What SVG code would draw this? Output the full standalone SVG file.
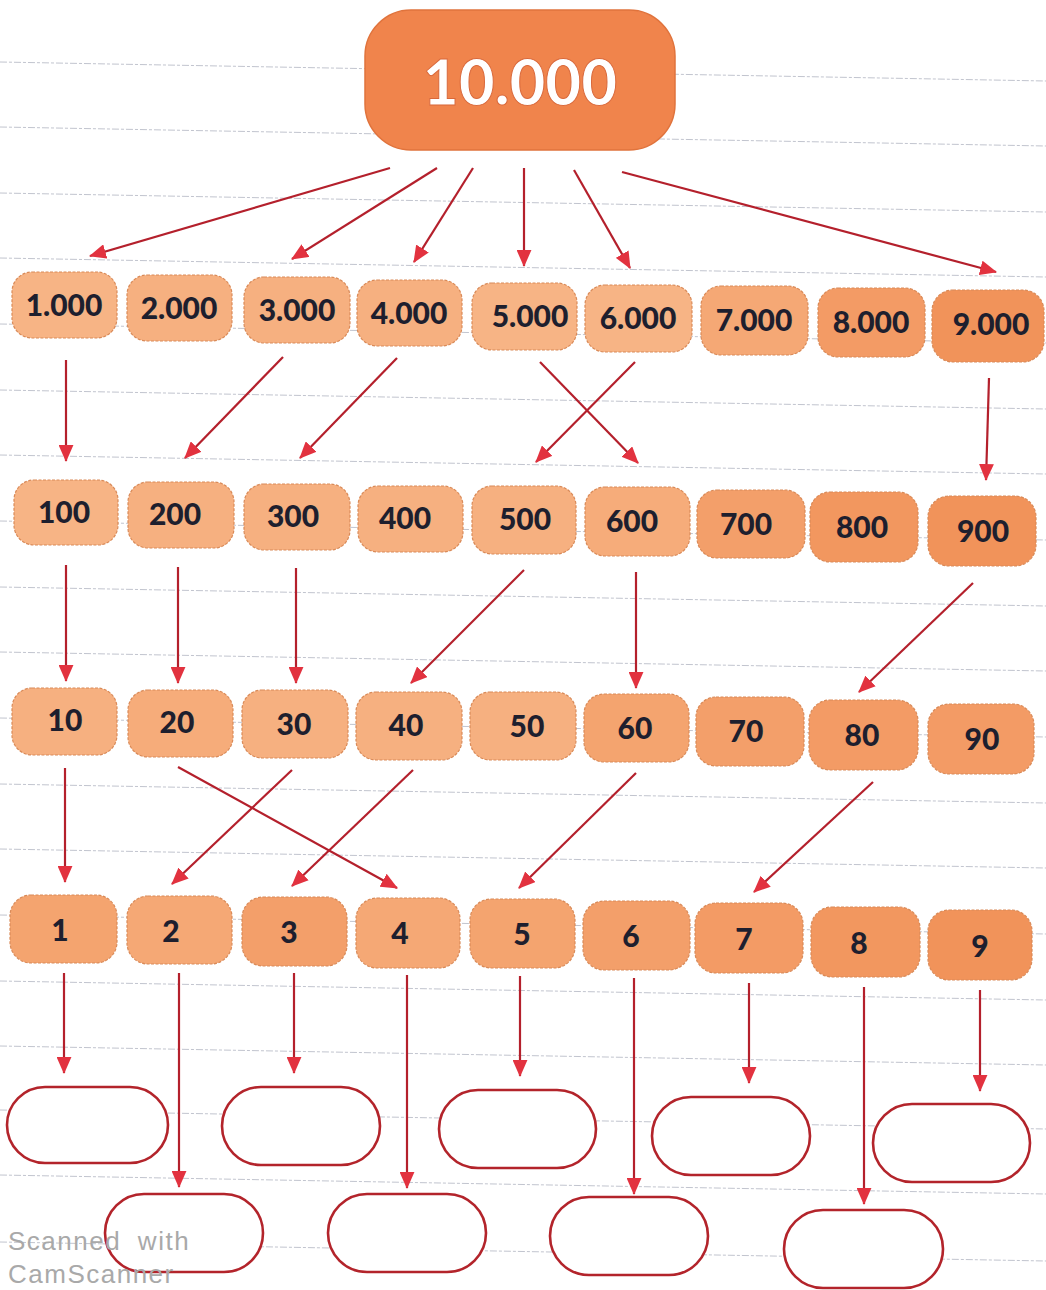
<svg xmlns="http://www.w3.org/2000/svg" width="1046" height="1290" viewBox="0 0 1046 1290">
<style>
.bg{fill:#ffffff}
.rule{stroke:#8e94a6;stroke-width:1;stroke-dasharray:7 2 3 2;opacity:0.55;fill:none}
.n rect{stroke:#d98a58;stroke-width:1.2;stroke-dasharray:3 1.5}
.n text{font-family:Lato,"Liberation Sans",sans-serif;font-weight:900;font-size:30px;fill:#1e1f2e;text-anchor:middle;dominant-baseline:central}
.c0{fill:#F7B485}.c1{fill:#F6B080}.c2{fill:#F6AC7A}.c3{fill:#F5A875}.c4{fill:#F4A46F}.c5{fill:#F39F6A}.c6{fill:#F39B65}.c7{fill:#F2975F}.c8{fill:#F1935A}
.e rect{fill:#ffffff;stroke:#b3242b;stroke-width:2.6}
.a line{stroke:#b4202c;stroke-width:2.2}
.wm{font-family:"Liberation Sans",sans-serif;font-size:26px;fill:#a9a9a9;letter-spacing:1.5px;word-spacing:8px}
</style>
<defs>
<marker id="ah" viewBox="0 0 16 14" refX="15" refY="7" markerWidth="17" markerHeight="15" orient="auto" markerUnits="userSpaceOnUse">
<path d="M0,0 L16,7 L0,14 z" fill="#e2323f"/>
</marker>
</defs>
<rect class="bg" x="0" y="0" width="1046" height="1290"/>
<g id="ruled-lines">
<line class="rule" x1="0" y1="62" x2="1046" y2="81"/>
<line class="rule" x1="0" y1="127" x2="1046" y2="146"/>
<line class="rule" x1="0" y1="193" x2="1046" y2="212"/>
<line class="rule" x1="0" y1="258" x2="1046" y2="277"/>
<line class="rule" x1="0" y1="324" x2="1046" y2="343"/>
<line class="rule" x1="0" y1="390" x2="1046" y2="409"/>
<line class="rule" x1="0" y1="455" x2="1046" y2="474"/>
<line class="rule" x1="0" y1="521" x2="1046" y2="540"/>
<line class="rule" x1="0" y1="587" x2="1046" y2="606"/>
<line class="rule" x1="0" y1="652" x2="1046" y2="671"/>
<line class="rule" x1="0" y1="718" x2="1046" y2="737"/>
<line class="rule" x1="0" y1="784" x2="1046" y2="803"/>
<line class="rule" x1="0" y1="849" x2="1046" y2="868"/>
<line class="rule" x1="0" y1="915" x2="1046" y2="934"/>
<line class="rule" x1="0" y1="981" x2="1046" y2="1000"/>
<line class="rule" x1="0" y1="1046" x2="1046" y2="1065"/>
<line class="rule" x1="0" y1="1110" x2="1046" y2="1129"/>
<line class="rule" x1="0" y1="1175" x2="1046" y2="1194"/>
<line class="rule" x1="0" y1="1242" x2="1046" y2="1261"/>
</g>

<g id="connectors" class="a">
<line x1="390" y1="168" x2="90" y2="256" marker-end="url(#ah)"/>
<line x1="437" y1="168" x2="292" y2="259" marker-end="url(#ah)"/>
<line x1="473" y1="168" x2="414" y2="262" marker-end="url(#ah)"/>
<line x1="524" y1="168" x2="524" y2="266" marker-end="url(#ah)"/>
<line x1="574" y1="170" x2="630" y2="268" marker-end="url(#ah)"/>
<line x1="622" y1="172" x2="996" y2="272" marker-end="url(#ah)"/>

<line x1="66" y1="360" x2="66" y2="461" marker-end="url(#ah)"/>
<line x1="283" y1="357" x2="185" y2="458" marker-end="url(#ah)"/>
<line x1="397" y1="358" x2="300" y2="458" marker-end="url(#ah)"/>
<line x1="540" y1="362" x2="638" y2="463" marker-end="url(#ah)"/>
<line x1="635" y1="362" x2="536" y2="462" marker-end="url(#ah)"/>
<line x1="989" y1="378" x2="986" y2="480" marker-end="url(#ah)"/>

<line x1="66" y1="565" x2="66" y2="681" marker-end="url(#ah)"/>
<line x1="178" y1="567" x2="178" y2="683" marker-end="url(#ah)"/>
<line x1="296" y1="568" x2="296" y2="683" marker-end="url(#ah)"/>
<line x1="524" y1="570" x2="411" y2="683" marker-end="url(#ah)"/>
<line x1="636" y1="572" x2="636" y2="688" marker-end="url(#ah)"/>
<line x1="973" y1="583" x2="859" y2="692" marker-end="url(#ah)"/>

<line x1="65" y1="768" x2="65" y2="882" marker-end="url(#ah)"/>
<line x1="178" y1="767" x2="397" y2="888" marker-end="url(#ah)"/>
<line x1="292" y1="770" x2="172" y2="884" marker-end="url(#ah)"/>
<line x1="413" y1="770" x2="292" y2="886" marker-end="url(#ah)"/>
<line x1="636" y1="773" x2="519" y2="888" marker-end="url(#ah)"/>
<line x1="873" y1="782" x2="754" y2="892" marker-end="url(#ah)"/>

<line x1="64" y1="973" x2="64" y2="1073" marker-end="url(#ah)"/>
<line x1="179" y1="973" x2="179" y2="1187" marker-end="url(#ah)"/>
<line x1="294" y1="973" x2="294" y2="1073" marker-end="url(#ah)"/>
<line x1="407" y1="975" x2="407" y2="1188" marker-end="url(#ah)"/>
<line x1="520" y1="976" x2="520" y2="1076" marker-end="url(#ah)"/>
<line x1="634" y1="978" x2="634" y2="1194" marker-end="url(#ah)"/>
<line x1="749" y1="983" x2="749" y2="1083" marker-end="url(#ah)"/>
<line x1="864" y1="987" x2="864" y2="1204" marker-end="url(#ah)"/>
<line x1="980" y1="990" x2="980" y2="1091" marker-end="url(#ah)"/>
</g>

<g id="n10000">
<rect x="365" y="10" width="310" height="140" rx="46" fill="#F0844C" stroke="#e0733c" stroke-width="1.5"/>
<text x="520" y="81" font-family="Lato,'Liberation Sans',sans-serif" font-weight="900" font-size="62" fill="#ffffff" stroke="#d9683a" stroke-width="1" text-anchor="middle" dominant-baseline="central">10.000</text>
</g>

<g id="n1000" class="n"><rect class="c0" x="12" y="272" width="105" height="66" rx="20"/><text x="64" y="304">1.000</text></g>
<g id="n2000" class="n"><rect class="c1" x="127" y="275" width="105" height="66" rx="20"/><text x="179" y="307">2.000</text></g>
<g id="n3000" class="n"><rect class="c1" x="244" y="277" width="106" height="66" rx="20"/><text x="297" y="309">3.000</text></g>
<g id="n4000" class="n"><rect class="c1" x="357" y="280" width="105" height="66" rx="20"/><text x="409" y="312">4.000</text></g>
<g id="n5000" class="n"><rect class="c0" x="472" y="283" width="105" height="67" rx="20"/><text x="530" y="315">5.000</text></g>
<g id="n6000" class="n"><rect class="c0" x="585" y="285" width="107" height="67" rx="20"/><text x="638" y="317">6.000</text></g>
<g id="n7000" class="n"><rect class="c3" x="701" y="286" width="107" height="69" rx="20"/><text x="754" y="319">7.000</text></g>
<g id="n8000" class="n"><rect class="c6" x="818" y="288" width="107" height="69" rx="20"/><text x="871" y="321">8.000</text></g>
<g id="n9000" class="n"><rect class="c8" x="932" y="290" width="112" height="72" rx="21"/><text x="991" y="323">9.000</text></g>

<g id="n100" class="n"><rect class="c0" x="14" y="480" width="104" height="65" rx="20"/><text x="64" y="511">100</text></g>
<g id="n200" class="n"><rect class="c1" x="128" y="482" width="106" height="66" rx="20"/><text x="175" y="513">200</text></g>
<g id="n300" class="n"><rect class="c1" x="244" y="484" width="106" height="66" rx="20"/><text x="293" y="515">300</text></g>
<g id="n400" class="n"><rect class="c1" x="358" y="486" width="105" height="66" rx="20"/><text x="405" y="517">400</text></g>
<g id="n500" class="n"><rect class="c1" x="472" y="486" width="104" height="68" rx="20"/><text x="525" y="518">500</text></g>
<g id="n600" class="n"><rect class="c2" x="585" y="487" width="105" height="69" rx="20"/><text x="632" y="520">600</text></g>
<g id="n700" class="n"><rect class="c5" x="697" y="490" width="108" height="68" rx="20"/><text x="746" y="523">700</text></g>
<g id="n800" class="n"><rect class="c7" x="810" y="492" width="108" height="70" rx="20"/><text x="862" y="526">800</text></g>
<g id="n900" class="n"><rect class="c8" x="928" y="496" width="108" height="70" rx="21"/><text x="983" y="530">900</text></g>

<g id="n10" class="n"><rect class="c1" x="12" y="688" width="105" height="67" rx="20"/><text x="65" y="719">10</text></g>
<g id="n20" class="n"><rect class="c2" x="128" y="690" width="105" height="67" rx="20"/><text x="177" y="721">20</text></g>
<g id="n30" class="n"><rect class="c1" x="242" y="690" width="106" height="68" rx="20"/><text x="294" y="723">30</text></g>
<g id="n40" class="n"><rect class="c1" x="356" y="692" width="106" height="68" rx="20"/><text x="406" y="724">40</text></g>
<g id="n50" class="n"><rect class="c1" x="470" y="692" width="106" height="68" rx="20"/><text x="527" y="725">50</text></g>
<g id="n60" class="n"><rect class="c4" x="584" y="694" width="105" height="68" rx="20"/><text x="635" y="727">60</text></g>
<g id="n70" class="n"><rect class="c5" x="696" y="697" width="108" height="69" rx="20"/><text x="746" y="730">70</text></g>
<g id="n80" class="n"><rect class="c6" x="809" y="700" width="109" height="70" rx="21"/><text x="862" y="734">80</text></g>
<g id="n90" class="n"><rect class="c6" x="928" y="704" width="106" height="70" rx="21"/><text x="982" y="738">90</text></g>

<g id="n1" class="n"><rect class="c4" x="10" y="895" width="107" height="68" rx="21"/><text x="60" y="929">1</text></g>
<g id="n2" class="n"><rect class="c3" x="127" y="896" width="105" height="68" rx="21"/><text x="171" y="930">2</text></g>
<g id="n3" class="n"><rect class="c5" x="242" y="897" width="105" height="69" rx="21"/><text x="289" y="931">3</text></g>
<g id="n4" class="n"><rect class="c3" x="356" y="898" width="104" height="70" rx="21"/><text x="400" y="932">4</text></g>
<g id="n5" class="n"><rect class="c4" x="470" y="899" width="105" height="69" rx="21"/><text x="522" y="933">5</text></g>
<g id="n6" class="n"><rect class="c5" x="583" y="901" width="107" height="69" rx="21"/><text x="631" y="935">6</text></g>
<g id="n7" class="n"><rect class="c6" x="695" y="903" width="108" height="70" rx="21"/><text x="744" y="938">7</text></g>
<g id="n8" class="n"><rect class="c7" x="811" y="907" width="109" height="70" rx="21"/><text x="859" y="942">8</text></g>
<g id="n9" class="n"><rect class="c8" x="928" y="910" width="104" height="70" rx="21"/><text x="980" y="945">9</text></g>

<g id="e1" class="e"><rect x="7" y="1087" width="161" height="76" rx="38"/></g>
<g id="e3" class="e"><rect x="222" y="1087" width="158" height="78" rx="39"/></g>
<g id="e5" class="e"><rect x="439" y="1090" width="157" height="78" rx="39"/></g>
<g id="e7" class="e"><rect x="652" y="1097" width="158" height="78" rx="39"/></g>
<g id="e9" class="e"><rect x="873" y="1104" width="157" height="78" rx="39"/></g>
<g id="e2" class="e"><rect x="105" y="1194" width="158" height="78" rx="39"/></g>
<g id="e4" class="e"><rect x="328" y="1194" width="158" height="78" rx="39"/></g>
<g id="e6" class="e"><rect x="550" y="1197" width="158" height="78" rx="39"/></g>
<g id="e8" class="e"><rect x="784" y="1210" width="159" height="78" rx="39"/></g>

<g id="watermark">
<text class="wm" x="8" y="1250">Scanned with</text>
<text class="wm" x="8" y="1283">CamScanner</text>
</g>
</svg>
